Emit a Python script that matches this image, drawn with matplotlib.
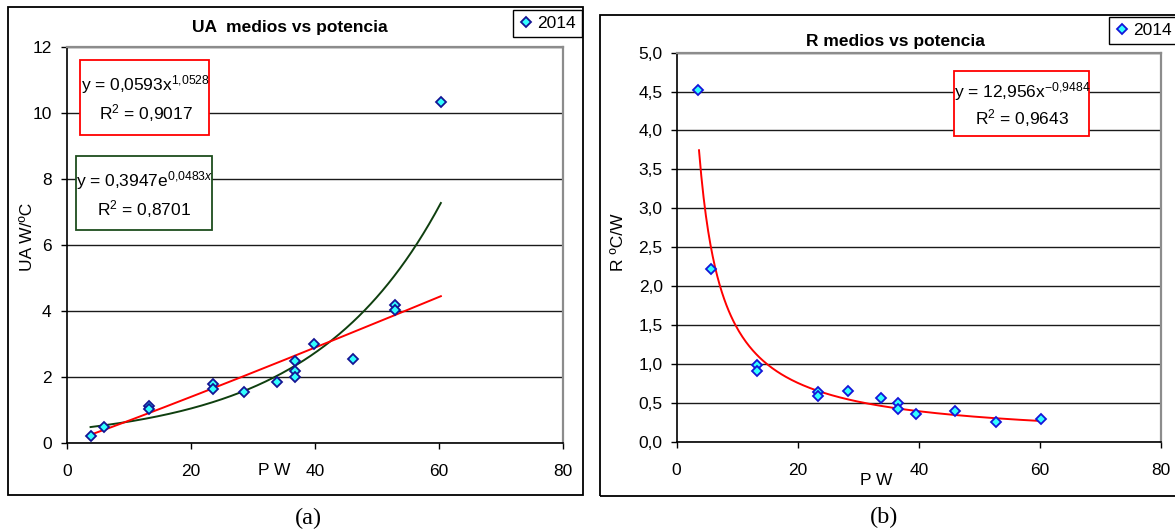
import numpy as np
import matplotlib
matplotlib.use('Agg')
import matplotlib.pyplot as plt
from matplotlib.patches import Rectangle
from matplotlib.ticker import FixedLocator, FuncFormatter

plt.rcParams['font.family'] = ['Liberation Sans', 'DejaVu Sans']
plt.rcParams['mathtext.fontset'] = 'custom'
plt.rcParams['mathtext.rm'] = 'Liberation Sans'
plt.rcParams['mathtext.it'] = 'Liberation Sans:italic'
plt.rcParams['mathtext.bf'] = 'Liberation Sans:bold'

# ---------------- data ----------------
series_label = '2014'

# (a) UA vs power
pw_a = [3.8, 5.9, 13.2, 13.2, 23.6, 23.6, 28.5, 33.9, 36.8, 36.8, 36.8, 39.8, 46.1, 52.9, 52.9, 60.3]
ua = [0.21, 0.49, 1.10, 1.03, 1.77, 1.63, 1.54, 1.85, 2.48, 2.17, 2.00, 2.99, 2.53, 4.18, 4.01, 10.31]

# (b) R vs power
pw_b = [3.6, 5.7, 13.2, 13.2, 23.4, 23.4, 28.3, 33.7, 36.6, 36.6, 39.6, 46.0, 52.8, 60.2]
r_vals = [4.52, 2.22, 0.99, 0.91, 0.64, 0.59, 0.65, 0.56, 0.50, 0.42, 0.36, 0.40, 0.25, 0.29]

# trendline coefficients as printed on the chart
pow_a_coef, pow_a_exp, pow_a_r2 = 0.0593, 1.0528, '0,9017'
exp_a_coef, exp_a_rate, exp_a_r2 = 0.3947, 0.0483, '0,8701'
pow_b_coef, pow_b_exp, pow_b_r2 = 12.956, -0.9484, '0,9643'

title_a = 'UA  medios vs potencia'
title_b = 'R medios vs potencia'
xlabel = 'P W'
ylabel_a = 'UA W/ºC'
ylabel_b = 'R ºC/W'
xticks = [0, 20, 40, 60, 80]
yticks_a = [0, 2, 4, 6, 8, 10, 12]
yticks_b = [0.0, 0.5, 1.0, 1.5, 2.0, 2.5, 3.0, 3.5, 4.0, 4.5, 5.0]

# ---------------- figure ----------------
W, H = 1175, 531
fig = plt.figure(figsize=(W / 100, H / 100), dpi=100)


def rect(l, t, r, b):
    return [l / W, 1 - b / H, (r - l) / W, (b - t) / H]


def fx(px):
    return px / W


def fy(py):
    return 1 - py / H


ax1 = fig.add_axes(rect(67, 46.7, 563, 442.7))
ax2 = fig.add_axes(rect(676.6, 52.7, 1161, 441.7))

face = '#33FFFF'


def style(ax, yt, fmt, xpad):
    ax.set_xlim(0, 80)
    ax.set_ylim(yt[0], yt[-1])
    ax.xaxis.set_major_locator(FixedLocator(xticks))
    ax.yaxis.set_major_locator(FixedLocator(yt))
    ax.yaxis.set_major_formatter(FuncFormatter(fmt))
    ax.grid(axis='y', color='#1a1a1a', lw=1.0)
    ax.set_axisbelow(True)
    for s in ['top', 'right']:
        ax.spines[s].set_color('#8c8c8c')
        ax.spines[s].set_linewidth(1.6)
    for s in ['left', 'bottom']:
        ax.spines[s].set_color('black')
        ax.spines[s].set_linewidth(1.2)
    ax.tick_params(direction='out', length=4, width=1, color='black', labelsize=12.5)
    ax.tick_params(axis='x', pad=xpad)


# ---- chart (a)
style(ax1, yticks_a, lambda v, p: f'{v:g}', 11)
ax1.tick_params(axis='y', pad=7)
xs_a = np.linspace(min(pw_a), max(pw_a), 300)
ax1.plot(xs_a, exp_a_coef * np.exp(exp_a_rate * xs_a), color='#0f3f0f', lw=1.4, zorder=3)
ax1.plot(xs_a, pow_a_coef * xs_a ** pow_a_exp, color='#ff0000', lw=1.4, zorder=3)
h1, = ax1.plot(pw_a, ua, ls='none', marker='D', ms=5.2, mfc=face, mec='#141494', mew=1.3, zorder=4)
ax1.set_xlabel(xlabel, fontsize=12.5)
ax1.xaxis.set_label_coords(0.417, -0.052)
ax1.set_ylabel(ylabel_a, fontsize=12.5)
ax1.yaxis.set_label_coords(-0.065, 0.519)

# ---- chart (b)
style(ax2, yticks_b, lambda v, p: f'{v:.1f}'.replace('.', ','), 11.5)
ax2.tick_params(axis='y', pad=6)
xs_b = np.linspace(3.7, max(pw_b), 300)
ax2.plot(xs_b, pow_b_coef * xs_b ** pow_b_exp, color='#ff0000', lw=1.4, zorder=3)
h2, = ax2.plot(pw_b, r_vals, ls='none', marker='D', ms=5.2, mfc=face, mec='#1414d8', mew=1.3, zorder=4)
ax2.set_xlabel(xlabel, fontsize=12.5)
ax2.xaxis.set_label_coords(0.413, -0.08)
ax2.set_ylabel(ylabel_b, fontsize=12.5)
ax2.yaxis.set_label_coords(-0.105, 0.513)

# ---- titles
fig.text(fx(290), fy(32), title_a, ha='center', va='baseline', fontsize=12.5, fontweight='bold')
fig.text(fx(895), fy(46), title_b, ha='center', va='baseline', fontsize=12.5, fontweight='bold')

# ---- outer chart frames
fig.add_artist(Rectangle((fx(7.5), fy(495)), (582.7 - 7.5) / W, (495 - 6.7) / H,
                         transform=fig.transFigure, fill=False, edgecolor='black', lw=1.3, zorder=0.5))
fig.add_artist(Rectangle((fx(600), fy(496)), (1185 - 600) / W, (496 - 15) / H,
                         transform=fig.transFigure, fill=False, edgecolor='black', lw=1.3, zorder=0.5))


# ---- equation boxes
def eq_box(l, t, r, b, ec, lines):
    fig.add_artist(Rectangle((fx(l), fy(b)), (r - l) / W, (b - t) / H, transform=fig.transFigure,
                             facecolor='white', edgecolor=ec, lw=1.3, zorder=2))
    for (cx, by, s) in lines:
        fig.text(fx(cx), fy(by), s, ha='center', va='baseline', fontsize=12.5, zorder=3)


def fmt_num(v):
    return f'{v}'.replace('.', '{,}')


eq_box(80, 60, 209, 135, '#ff0000',
       [(145, 90, 'y = ' + f'{pow_a_coef:.4f}'.replace('.', ',') + 'x$^{' + fmt_num(pow_a_exp) + '}$'),
        (146, 119, 'R$^{2}$ = ' + pow_a_r2)])
eq_box(76, 156, 212, 230, '#1e4d1e',
       [(145, 186, 'y = ' + f'{exp_a_coef:.4f}'.replace('.', ',') + 'e$^{' + fmt_num(exp_a_rate) + 'x}$'),
        (144, 215, 'R$^{2}$ = ' + exp_a_r2)])
eq_box(954, 71, 1089, 136, '#ff0000',
       [(1022, 97, 'y = ' + f'{pow_b_coef:.3f}'.replace('.', ',') + 'x$^{' + fmt_num(pow_b_exp) + '}$'),
        (1022, 124, 'R$^{2}$ = ' + pow_b_r2)])

# ---- legends
for h, (lx, ty) in [(h1, (512.7, 10)), (h2, (1109, 17))]:
    leg = fig.legend(handles=[h], labels=[series_label], loc='upper left',
                     bbox_to_anchor=(fx(lx), fy(ty)), bbox_transform=fig.transFigure,
                     frameon=True, fancybox=False, edgecolor='black', framealpha=1,
                     borderpad=0.35, handlelength=0.8, handletextpad=0.25, borderaxespad=0,
                     fontsize=12.5, numpoints=1)
    leg.get_frame().set_linewidth(1.0)

# ---- captions
fig.text(fx(308.5), fy(524), '(a)', ha='center', va='baseline', fontsize=17.5, family='Liberation Serif')
fig.text(fx(883.6), fy(523), '(b)', ha='center', va='baseline', fontsize=17.5, family='Liberation Serif')

fig.savefig('out.png', dpi=100)
